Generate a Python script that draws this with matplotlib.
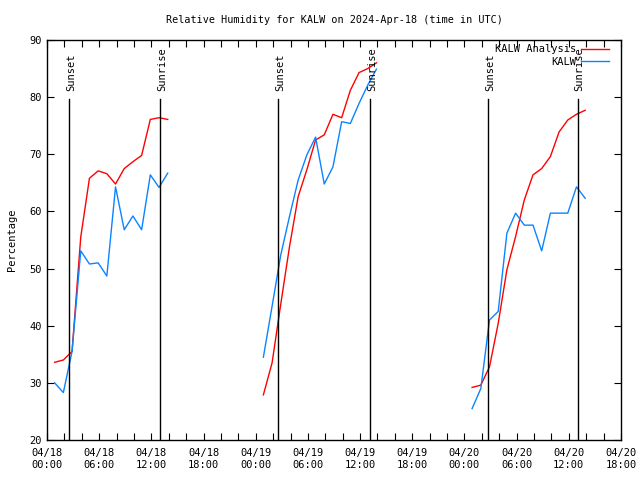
import matplotlib
matplotlib.use("Agg")
import matplotlib.pyplot as plt

##########################
# data (hours since 04/18 00:00 UTC)
##########################
t1 = [0.88, 1.88, 2.88, 3.88, 4.88, 5.88, 6.88, 7.88, 8.88, 9.88, 10.88, 11.88, 12.88, 13.88]
t2 = [24.88, 25.88, 26.88, 27.88, 28.88, 29.88, 30.88, 31.88, 32.88, 33.88, 34.88, 35.88, 36.88, 37.88]
t3 = [48.88, 49.88, 50.88, 51.88, 52.88, 53.88, 54.88, 55.88, 56.88, 57.88, 58.88, 59.88, 60.88, 61.88]

analyse1 = [33.6, 34.0, 35.5, 55.5, 65.8, 67.1, 66.6, 64.8, 67.5, 68.7, 69.8, 76.1, 76.4, 76.1]
analyse2 = [27.9, 33.5, 43.8, 53.8, 62.6, 67.3, 72.5, 73.4, 77.0, 76.4, 81.2, 84.3, 85.0, 86.0]
analyse3 = [29.2, 29.6, 32.8, 40.4, 49.8, 55.6, 62.0, 66.4, 67.5, 69.6, 73.9, 76.0, 77.0, 77.7]

obs1 = [30.0, 28.3, 35.5, 53.1, 50.8, 51.0, 48.7, 64.3, 56.8, 59.2, 56.8, 66.4, 64.2, 66.7]
obs2 = [34.5, 43.4, 52.4, 59.1, 65.5, 69.9, 73.0, 64.8, 67.8, 75.7, 75.4, 78.9, 82.1, 84.9]
obs3 = [25.5, 29.0, 41.0, 42.5, 56.2, 59.7, 57.6, 57.6, 53.1, 59.7, 59.7, 59.7, 64.3, 62.3]

coucher = [2.56, 26.6, 50.7]
lever = [13.0, 37.1, 61.0]

etiquettes = ["04/18\n00:00", "04/18\n06:00", "04/18\n12:00", "04/18\n18:00",
              "04/19\n00:00", "04/19\n06:00", "04/19\n12:00", "04/19\n18:00",
              "04/20\n00:00", "04/20\n06:00", "04/20\n12:00", "04/20\n18:00"]

plt.rcParams['font.family'] = 'DejaVu Sans Mono'
plt.rcParams['font.size'] = 7

fig = plt.figure(figsize=(6.4, 4.8), dpi=100)
ax = fig.add_axes([47/640, 40/480, 574/640, 400/480])

rouge = '#ff0000'
bleu = '#0a84ff'

#######################
# courbes
#######################
ax.plot(t1, analyse1, color=rouge, lw=1, label="KALW Analysis")
ax.plot(t2, analyse2, color=rouge, lw=1)
ax.plot(t3, analyse3, color=rouge, lw=1)
ax.plot(t1, obs1, color=bleu, lw=1, label="KALW")
ax.plot(t2, obs2, color=bleu, lw=1)
ax.plot(t3, obs3, color=bleu, lw=1)

#######################
# coucher / lever
#######################
for x in coucher:
    ax.plot([x, x], [20, 79.7], color='black', lw=1)
    ax.text(x + 0.25, 81.0, "Sunset", rotation=90, ha='center', va='bottom', fontsize=7.5)
for x in lever:
    ax.plot([x, x], [20, 79.7], color='black', lw=1)
    ax.text(x + 0.25, 81.0, "Sunrise", rotation=90, ha='center', va='bottom', fontsize=7.5)

#######################
# axes, titre, légendes
#######################
ax.set_xlim(0, 66)
ax.set_ylim(20, 90)
ax.set_xticks(range(0, 67, 6))
ax.set_xticklabels(etiquettes)
ax.set_xticks(range(0, 67, 2), minor=True)
ax.set_yticks(range(20, 91, 10))
ax.tick_params(axis='both', which='both', direction='in', top=True, right=True, length=5, width=0.8, labelsize=7.5)
ax.tick_params(axis='x', pad=6)
for s in ax.spines.values():
    s.set_linewidth(1)

ax.set_title("Relative Humidity for KALW on 2024-Apr-18 (time in UTC)", fontsize=7.3, pad=12)
ax.set_ylabel("Percentage", fontsize=7.5, labelpad=9)

leg = ax.legend(loc='upper right', frameon=False, fontsize=7.5, markerfirst=False,
                handlelength=2.7, handletextpad=0.5, borderpad=0.1, labelspacing=0.25,
                bbox_to_anchor=(0.9905, 1.005))
for t in leg.get_texts():
    t.set_ha('right')

fig.savefig("out.png", dpi=100)
